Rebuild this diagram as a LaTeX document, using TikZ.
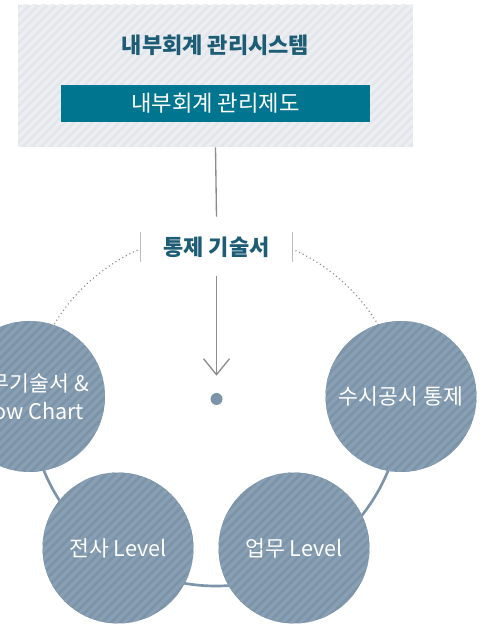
\documentclass[tikz,border=0pt]{standalone}
\usepackage{fontspec}
\setmainfont{Noto Sans CJK KR}
\usetikzlibrary{arrows.meta,positioning,calc}

\definecolor{boxgray}{HTML}{E3E6EA}
\definecolor{boxstripe}{HTML}{ECEEF1}
\definecolor{barteal}{HTML}{00758F}
\definecolor{titleteal}{HTML}{1C5C74}
\definecolor{slate}{HTML}{7C94A9}
\definecolor{slatestripe}{HTML}{89A0B4}
\definecolor{linegray}{HTML}{8C8C8C}
\definecolor{sepgray}{HTML}{BDBDBD}

\begin{document}
\begin{tikzpicture}[x=0.75pt, y=0.75pt, >={Straight Barb[length=12pt, width=19.5pt]}]
\tikzset{
hatch/.style    = {path picture={\foreach \k in {-60,...,60} \draw[#1, line width=2.4pt] ($(path picture bounding box.south west)+(\k*9,0)$) -- ++(220,220);}},
sysbox/.style   = {fill=boxgray, hatch=boxstripe, minimum width=296.25pt, minimum height=106.5pt, inner sep=0},
title/.style    = {text=titleteal, font=\bfseries\fontsize{16.5}{20}\selectfont},
bar/.style      = {fill=barteal, text=white, minimum width=231.75pt, minimum height=27.75pt, inner sep=0, font=\fontsize{16.7}{20}\selectfont},
docs/.style     = {fill=white, minimum width=113.25pt, minimum height=22.5pt, inner sep=0, text=titleteal, font=\bfseries\fontsize{16.5}{20}\selectfont},
stage/.style    = {circle, fill=slate, hatch=slatestripe, minimum size=113.25pt, inner sep=0, text=white, align=center, font=\fontsize{16.2}{21}\selectfont},
hub/.style      = {circle, fill=slate, minimum size=9pt, inner sep=0},
conn/.style     = {draw=linegray, line width=1pt},
sep/.style      = {draw=sepgray, line width=1.1pt},
ring/.style     = {draw=slate, line width=2pt},
dots/.style     = {draw=linegray, line width=0.9pt, dash pattern=on 0.8pt off 2.2pt},
}
    \useasboundingbox (0,0) rectangle (482,624);

    % Rings behind the stages
    \draw [dots] (216,202) ++(150:189) arc[start angle=150, end angle=30, radius=189];
    \draw [ring] (216,224) ++(180:186) arc[start angle=180, end angle=360, radius=186];

    % Main nodes
    \node [sysbox]                      (system)    at (215.5,548)  {};
    \node [title]                       (systitle)  at (215.5,579)  {내부회계 관리시스템};
    \node [bar]                         (policy)    at (215.5,520.5) {내부회계 관리제도};
    \node [docs]                        (narrative) at (216.5,377)  {통제 기술서};
    \node [hub]                         (center)    at (216.5,225)  {};

    % Stages
    \node [stage]                       (flow)      at (29.5,227.5) {업무기술서 \&\\Flow Chart};
    \node [stage]                       (disclose)  at (401,227.5)  {수시공시 통제};
    \node [stage]                       (entity)    at (118,76)     {전사 Level};
    \node [stage]                       (process)   at (294,76)     {업무 Level};

    % Main edges
    \draw [sep]     (narrative.north west)  --  (narrative.south west);
    \draw [sep]     (narrative.north east)  --  (narrative.south east);
    \draw [conn]    (system.south)          --  ([yshift=11.25pt]narrative.north);
    \draw [conn,->] ([yshift=-10.5pt]narrative.south) -- ([yshift=12.75pt]center.north);

\end{tikzpicture}
\end{document}
